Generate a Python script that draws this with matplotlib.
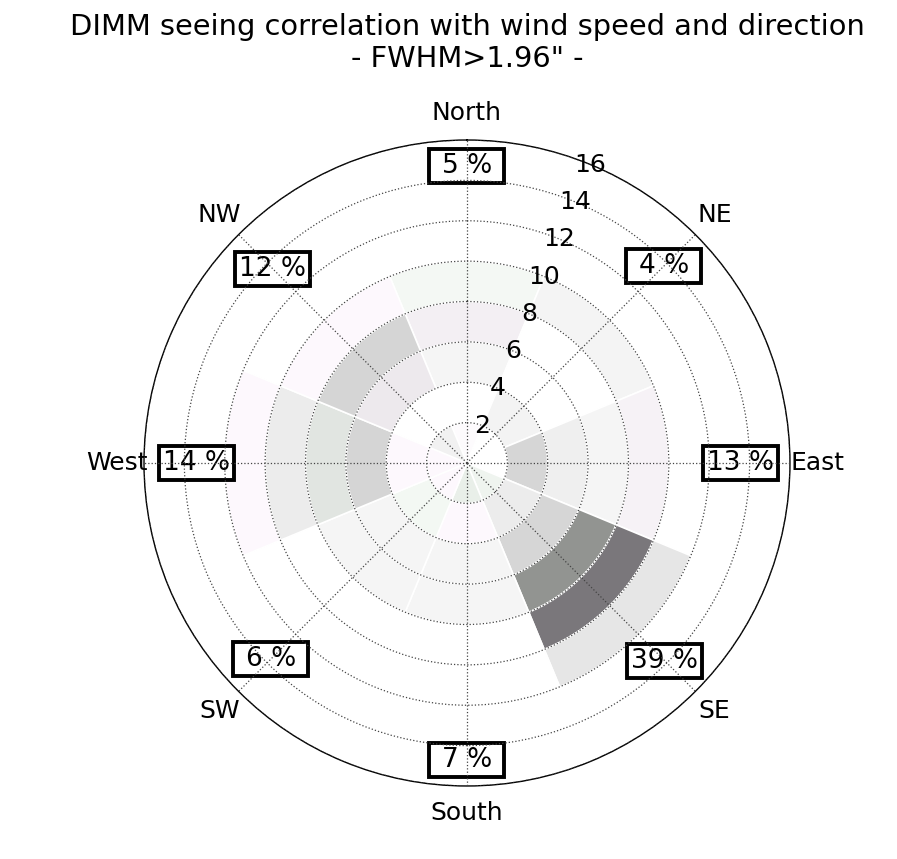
import matplotlib
matplotlib.use("Agg")
import matplotlib.pyplot as plt
from matplotlib.patches import Rectangle
from matplotlib.transforms import ScaledTranslation
import numpy as np

# directions (compass degrees, clockwise from North)
directions = ['North', 'NE', 'East', 'SE', 'South', 'SW', 'West', 'NW']
dir_deg = [0, 45, 90, 135, 180, 225, 270, 315]
percent = [5, 4, 13, 39, 7, 6, 14, 12]

# wind speed bins (m/s)
speed_edges = [0, 2, 4, 6, 8, 10, 12]

# cell colour (seeing correlation level) per direction, one per speed bin
W = '#ffffff'
col_N  = ['#fdfbfd', W, '#f5f5f5', '#f3eff3', '#f4f8f4', W]
col_NE = [W, '#f3f3f3', W, W, '#f4f4f4', W]
col_E  = [W, '#d6d6d6', '#efefef', '#f5f5f5', '#f6f2f6', W]
col_SE = ['#eff4ef', '#ececec', '#d6d6d6', '#929491', '#7a777b', '#e6e6e6']
col_S  = ['#e9efe9', '#fdf8fd', '#f5f5f5', '#f5f5f5', W, W]
col_SW = ['#fdf8fd', '#f3f8f3', '#f5f5f5', '#f5f5f5', W, W]
col_W  = ['#fdf8fd', '#fdf8fd', '#d5d5d5', '#e1e5e1', '#ececec', '#fdf8fd']
col_NW = ['#f1f1f1', W, '#ede9ed', '#d5d5d5', '#fdf8fd', W]
colors = [col_N, col_NE, col_E, col_SE, col_S, col_SW, col_W, col_NW]

rticks = [2, 4, 6, 8, 10, 12, 14, 16]

fig = plt.figure(figsize=(8.97, 8.59), dpi=100)
ax = fig.add_axes([0.1605, 0.085, 0.7202, 0.752], projection='polar')
ax.set_theta_zero_location('N')
ax.set_theta_direction(-1)

width = 2 * np.pi / len(directions)
for d, cols in zip(dir_deg, colors):
    th = np.deg2rad(d)
    for i, c in enumerate(cols):
        r0 = speed_edges[i]
        dr = speed_edges[i + 1] - r0
        ax.bar(th, dr, width=width, bottom=r0, color=c, edgecolor='white',
               linewidth=1.2, zorder=1)

ax.set_ylim(0, 16)
ax.set_yticks(rticks)
ax.set_yticklabels([])
# radial labels centred on the 22.5 deg line (old-style placement)
for t in rticks:
    ax.text(np.deg2rad(22.5), t, str(t), fontsize=18, ha='center', va='center',
            zorder=3)
ax.set_xticks(np.deg2rad(dir_deg))
ax.set_xticklabels(directions, fontsize=18)
ax.tick_params(axis='x', pad=9)
ax.grid(True, color='#444444', linestyle=':', linewidth=0.9)
ax.set_axisbelow(False)
ax.spines['polar'].set_linewidth(1.0)

# percentage boxes (fixed size boxes, text centred)
label_r = [14.7, 13.8, 13.55, 13.85, 14.7, 13.75, 13.4, 13.6]
box_w, box_h = 0.75, 0.34  # inches
for d, p, r in zip(dir_deg, percent, label_r):
    th = np.deg2rad(d)
    ax.text(th, r, '%d %%' % p, fontsize=19, ha='center', va='center',
            zorder=2)
    tr = fig.dpi_scale_trans + ScaledTranslation(th, r, ax.transData)
    rect = Rectangle((-box_w / 2, -box_h / 2), box_w, box_h, transform=tr,
                     fc='white', ec='black', lw=2.8, zorder=1.8, clip_on=False)
    ax.add_artist(rect)

fig.text(467 / 897, 1 - 43 / 859,
         'DIMM seeing correlation with wind speed and direction\n- FWHM>1.96" -',
         ha='center', va='center', fontsize=20.8, linespacing=1.2)

fig.savefig('out.png', dpi=100)
